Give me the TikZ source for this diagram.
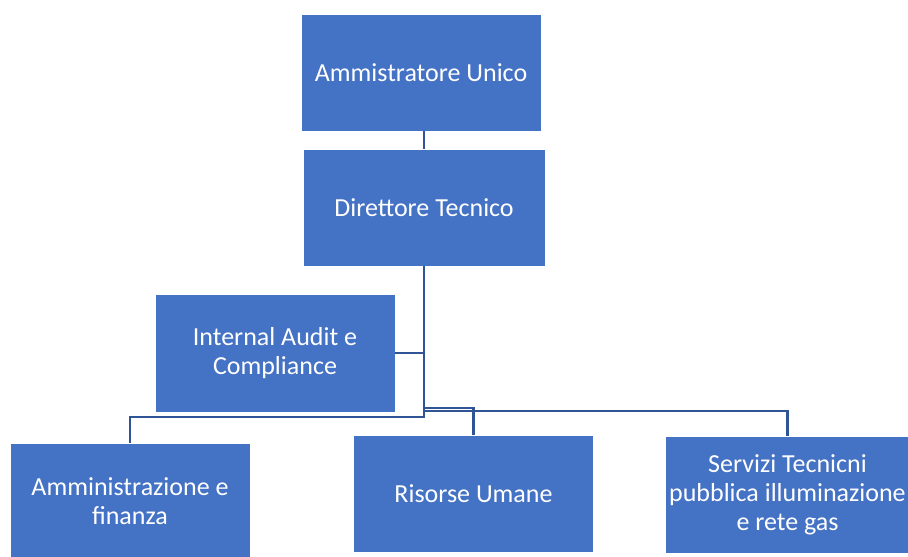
\documentclass[tikz,border=0pt]{standalone}
\usepackage{fontspec}
\setmainfont{Carlito}
\usepackage{tikz}
\usetikzlibrary{positioning}
\definecolor{boxblue}{HTML}{4472C4}
\definecolor{lineblue}{HTML}{2F5597}

\begin{document}
\begin{tikzpicture}[x=0.5pt,y=-0.5pt]
\tikzstyle{unit}=[draw=white,line width=0.4pt,fill=boxblue,text=white,minimum width=120pt,minimum height=58.5pt,inner sep=2pt,align=center,font=\fontsize{13}{14.5}\selectfont]
\tikzstyle{link}=[lineblue,line width=1.1pt]
\useasboundingbox (0,0) rectangle (908,556);
\node [unit] (au) at (421,72.5) {Ammistratore Unico};
\node [unit,minimum width=121pt] (dt) at (424,207.5) {Direttore Tecnico};
\node [unit,minimum height=59pt] (ia) at (275,353) {Internal Audit e\\Compliance};
\node [unit] (af) at (130,501.5) {Amministrazione e\\finanza};
\node [unit] (ru) at (473.5,494) {Risorse Umane};
\node [unit] (st) at (787.5,495) {Servizi Tecnicni\\pubblica illuminazione\\e rete gas};
\coordinate (jr) at (424,408);
\coordinate (js) at (424,411);
\coordinate (jf) at (424,417);
\draw [link] (dt.north |- au.south) -- (dt.north);
\draw [link] (dt.south) |- (ia.east);
\draw [link] (dt.south) -- (jr) -| (ru.north);
\draw [link] (dt.south) -- (js) -| (st.north);
\draw [link] (dt.south) -- (jf) -| (af.north);
\end{tikzpicture}
\end{document}
